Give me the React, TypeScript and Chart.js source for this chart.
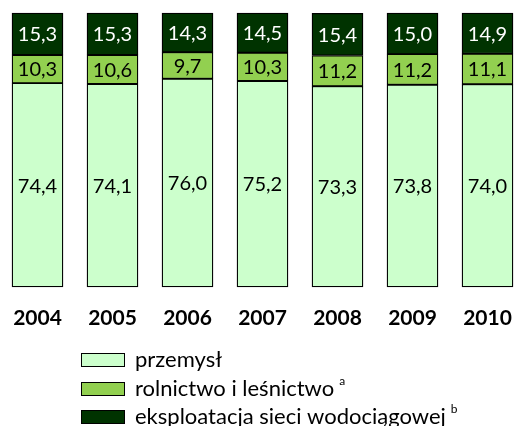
import React, { useEffect, useRef } from "react";
import { Chart, registerables } from "chart.js";

Chart.register(...registerables);

const years = ["2004", "2005", "2006", "2007", "2008", "2009", "2010"];
const przemysl = [74.4, 74.1, 76.0, 75.2, 73.3, 73.8, 74.0];
const rolnictwo = [10.3, 10.6, 9.7, 10.3, 11.2, 11.2, 11.1];
const wodociagi = [15.3, 15.3, 14.3, 14.5, 15.4, 15.0, 14.9];

const seriesNames = ["przemysł", "rolnictwo i leśnictwo", "eksploatacja sieci wodociągowej"];
const seriesNotes = ["", "a", "b"];
const seriesColors = ["#CCFFCC", "#92D050", "#003300"];
const labelColors = ["#000000", "#000000", "#FFFFFF"];

const FONT = "Lato, 'Open Sans', sans-serif";

const valueLabels = {
  id: "valueLabels",
  afterDatasetsDraw(chart: any) {
    const ctx = chart.ctx;
    ctx.save();
    ctx.font = `20px ${FONT}`;
    ctx.textAlign = "center";
    ctx.textBaseline = "middle";
    chart.data.datasets.forEach((ds: any, di: number) => {
      const meta = chart.getDatasetMeta(di);
      meta.data.forEach((el: any, i: number) => {
        const { x, y, base } = el.getProps(["x", "y", "base"], true);
        const v = ds.data[i] as number;
        ctx.fillStyle = labelColors[di];
        ctx.fillText(v.toFixed(1).replace(".", ","), x, (y + base) / 2 + 1);
      });
    });
    ctx.restore();
  },
};

const customLegend = {
  id: "customLegend",
  afterDraw(chart: any) {
    const ctx = chart.ctx;
    ctx.save();
    const boxX = 81;
    const boxW = 44;
    const boxH = 14;
    const tops = [353, 382, 410];
    chart.data.datasets.forEach((ds: any, di: number) => {
      const top = tops[di];
      ctx.fillStyle = ds.backgroundColor;
      ctx.fillRect(boxX, top, boxW, boxH);
      ctx.strokeStyle = "#000";
      ctx.lineWidth = 1;
      ctx.strokeRect(boxX + 0.5, top + 0.5, boxW - 1, boxH - 1);
      ctx.fillStyle = "#000";
      ctx.font = `22px ${FONT}`;
      ctx.textAlign = "left";
      ctx.textBaseline = "middle";
      const label = ds.label as string;
      ctx.fillText(label, 135, top + boxH / 2);
      const w = ctx.measureText(label).width;
      const note = seriesNotes[di];
      if (note) {
        ctx.font = `12px ${FONT}`;
        ctx.fillText(note, 135 + w + 5, top + boxH / 2 - 8);
      }
    });
    ctx.restore();
  },
};

export default function App() {
  const ref = useRef<HTMLCanvasElement | null>(null);
  useEffect(() => {
    if (!ref.current) return;
    const datasets = [przemysl, rolnictwo, wodociagi].map((data, i) => ({
      label: seriesNames[i],
      data,
      backgroundColor: seriesColors[i],
      borderColor: "#000000",
      borderWidth: 1.3,
      borderSkipped: false as const,
      barThickness: 51,
      clip: false as const,
    }));
    const chart = new Chart(ref.current, {
      type: "bar",
      data: { labels: years, datasets },
      options: {
        animation: false,
        responsive: true,
        maintainAspectRatio: false,
        layout: { padding: { left: 37.5, right: 26.5, top: 13, bottom: 0 } },
        plugins: { legend: { display: false }, tooltip: { enabled: false } },
        scales: {
          x: {
            stacked: true,
            offset: false,
            grid: { display: false, drawTicks: false },
            border: { display: false },
            ticks: {
              color: "#000",
              padding: 19,
              font: { family: FONT, size: 21, weight: "bold" },
              maxRotation: 0,
              autoSkip: false,
            },
            afterFit: (scale: any) => {
              scale.height = 139;
              scale.paddingLeft = 0;
              scale.paddingRight = 0;
            },
          },
          y: { stacked: true, display: false, min: 0, max: 100 },
        },
      },
      plugins: [valueLabels, customLegend],
    });
    return () => chart.destroy();
  }, []);
  return (
    <div style={{ position: "absolute", left: 0, top: 0, width: 514, height: 426, background: "#fff" }}>
      <canvas ref={ref} />
    </div>
  );
}
